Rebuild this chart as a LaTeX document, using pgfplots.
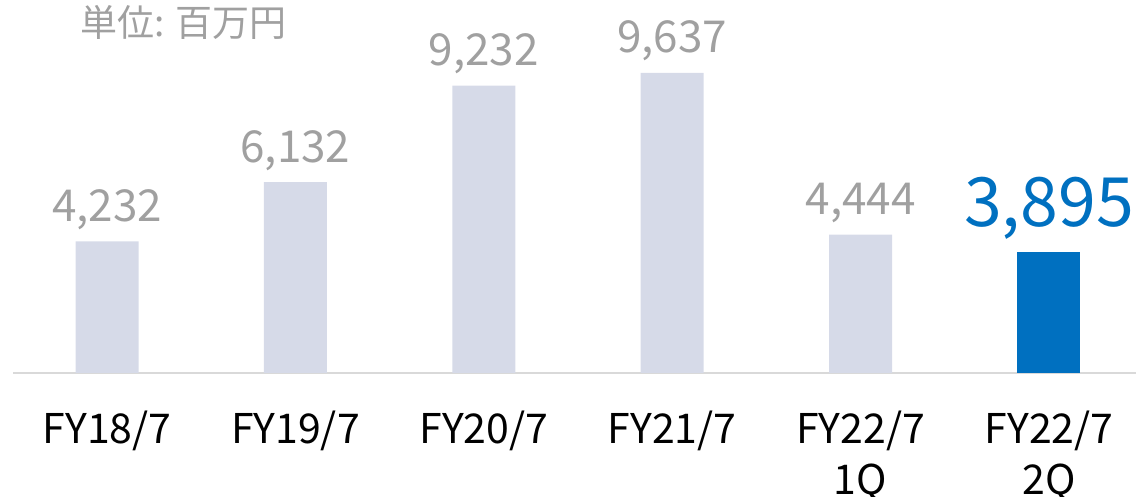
\documentclass[border=0pt]{standalone}
\usepackage{fontspec}
\usepackage{pgfplots}
\pgfplotsset{compat=1.18}
\setmainfont{Noto Sans CJK JP}
\definecolor{barg}{HTML}{D6DAE8}
\definecolor{barb}{HTML}{0070C0}
\definecolor{lblg}{HTML}{A0A0A0}
\definecolor{axg}{HTML}{D9D9D9}
\begin{document}
\begin{tikzpicture}
\begin{axis}[name=ax, at={(0,0)}, anchor=south west, scale only axis,
  width=561.5pt, height=186.5pt,
  xmin=-0.499, xmax=5.462, ymin=0, ymax=11982,
  axis x line=bottom, axis y line=none,
  axis line style={axg, line width=1pt, -},
  xtick={0,...,5},
  xticklabels={FY18/7, FY19/7, FY20/7, FY21/7, {FY22/7\\1Q}, {FY22/7\\2Q}},
  major tick length=0pt,
  xticklabel style={font=\fontsize{20.5}{25.5}\selectfont, align=center, anchor=north, inner sep=0pt, yshift=-19pt, text=black},
  ytick=\empty,
  ybar, bar width=31.5pt, bar shift=0pt,
  /pgf/number format/.cd, 1000 sep={,}, assume math mode=true
]
\addplot[fill=barg, draw=none, nodes near coords,
  every node near coord/.append style={font=\fontsize{22}{26}\selectfont, text=lblg, anchor=base, inner sep=0pt, yshift=10pt}]
  coordinates {(0,4232) (1,6132) (2,9232) (3,9637) (4,4444)};
\addplot[fill=barb, draw=none, nodes near coords,
  every node near coord/.append style={font=\fontsize{34}{40}\selectfont, text=barb, anchor=base, inner sep=0pt, yshift=12.5pt}]
  coordinates {(5,3895)};
\node[font=\fontsize{18.5}{22}\selectfont, text=lblg, anchor=center, inner sep=0pt] at ([yshift=-11pt]rel axis cs:0.152,1) {単位: 百万円};
\end{axis}
\pgfresetboundingbox
\path[use as bounding box] ([xshift=-6.5pt,yshift=-62pt]ax.south west) rectangle (ax.north east);
\end{tikzpicture}
\end{document}
